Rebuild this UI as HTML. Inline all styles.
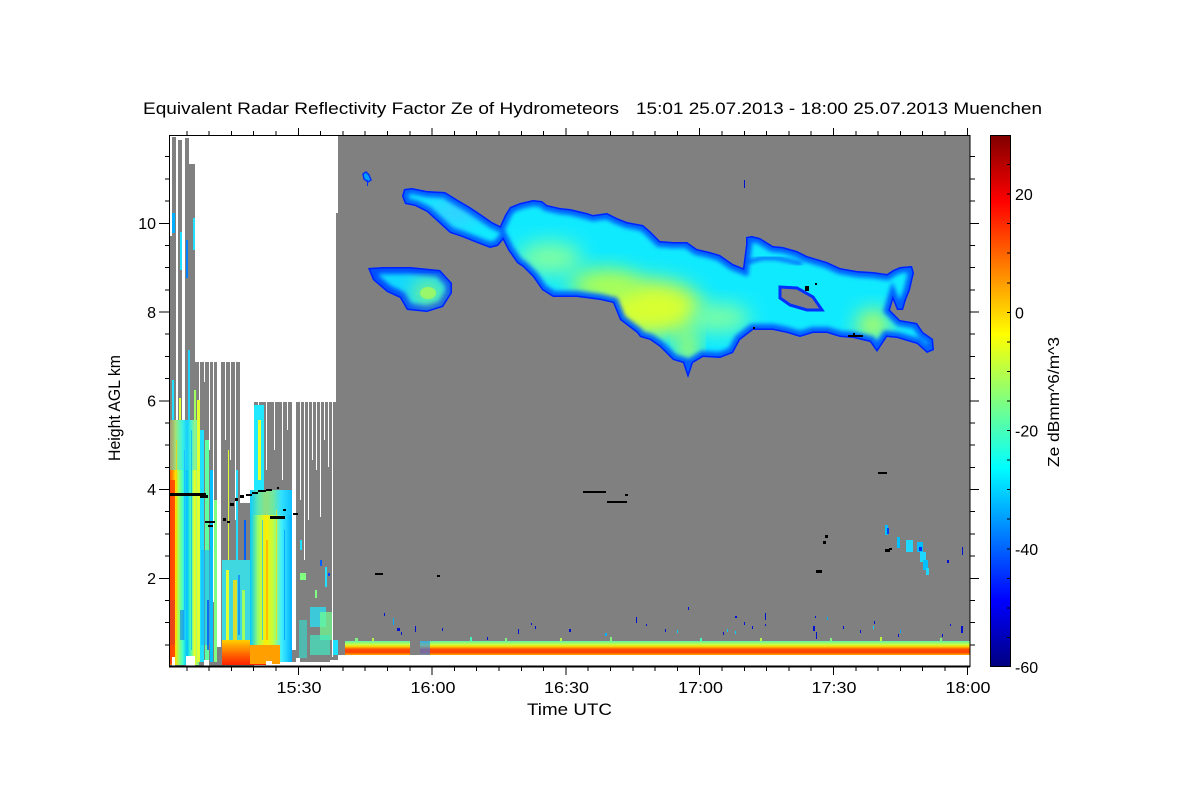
<!DOCTYPE html>
<html><head><meta charset="utf-8">
<style>html,body{margin:0;padding:0;background:#fff}svg{display:block}</style>
</head>
<body>
<svg width="1200" height="800" viewBox="0 0 1200 800" xmlns="http://www.w3.org/2000/svg" font-family="'Liberation Sans', Arial, sans-serif">
<defs>
 <linearGradient id="cb" x1="0" y1="1" x2="0" y2="0">
  <stop offset="0" stop-color="#000080"/>
  <stop offset="0.125" stop-color="#0000ff"/>
  <stop offset="0.375" stop-color="#00ffff"/>
  <stop offset="0.625" stop-color="#ffff00"/>
  <stop offset="0.875" stop-color="#ff0000"/>
  <stop offset="1" stop-color="#800000"/>
 </linearGradient>
 <linearGradient id="band" x1="0" y1="0" x2="0" y2="1">
  <stop offset="0" stop-color="#60f0b0"/>
  <stop offset="0.25" stop-color="#c8ff40"/>
  <stop offset="0.4" stop-color="#ffd000"/>
  <stop offset="0.58" stop-color="#ff5000"/>
  <stop offset="0.8" stop-color="#ff4000"/>
  <stop offset="1" stop-color="#ffa800"/>
 </linearGradient>
 <linearGradient id="gA" x1="0" y1="0" x2="1" y2="0">
  <stop offset="0" stop-color="#ff5000"/>
  <stop offset="0.12" stop-color="#ff9000"/>
  <stop offset="0.22" stop-color="#ffe000"/>
  <stop offset="0.32" stop-color="#a0ff60"/>
  <stop offset="0.46" stop-color="#40ffd0"/>
  <stop offset="0.6" stop-color="#00c0ff"/>
  <stop offset="0.72" stop-color="#40ffc0"/>
  <stop offset="0.86" stop-color="#f0ff20"/>
  <stop offset="1" stop-color="#60ffa0"/>
 </linearGradient>
 <linearGradient id="gD" x1="0" y1="0" x2="1" y2="0">
  <stop offset="0" stop-color="#00c8ff"/>
  <stop offset="0.2" stop-color="#a0ff60"/>
  <stop offset="0.38" stop-color="#ffee00"/>
  <stop offset="0.55" stop-color="#c0ff40"/>
  <stop offset="0.75" stop-color="#40f0ff"/>
  <stop offset="1" stop-color="#00b0ff"/>
 </linearGradient>
 <linearGradient id="gRed" x1="0" y1="0" x2="0" y2="1">
  <stop offset="0" stop-color="#ffd000"/>
  <stop offset="0.6" stop-color="#ff6000"/>
  <stop offset="1" stop-color="#ff2000"/>
 </linearGradient>
 <filter id="bl" x="-50%" y="-50%" width="200%" height="200%"><feGaussianBlur stdDeviation="10"/></filter>
 <filter id="bl2" x="-20%" y="-20%" width="140%" height="140%"><feGaussianBlur stdDeviation="2"/></filter>
 <clipPath id="cm"><path id="mainp" d="M402,196 L404,189 L412,188 L427,191 L445,192 L458,200 L470,207 L482,215 L492,222 L500,226 L505,215 L510,207 L520,203 L533,200 L542,201 L547,205 L560,208 L570,209 L587,213 L593,215 L607,213 L617,218 L627,222 L643,225 L650,231 L660,241 L673,242 L687,242 L697,249 L710,252 L720,255 L733,264 L743,268 L746,245 L746,237 L752,236 L760,238 L773,246 L783,247 L797,251 L807,256 L827,262 L840,268 L857,271 L873,272 L887,274 L893,270 L900,267 L912,266 L914,273 L910,290 L906,300 L903,310 L897,310 L893,300 L890,310 L900,320 L917,323 L923,332 L933,339 L934,350 L927,353 L917,344 L897,338 L887,337 L877,352 L870,342 L853,338 L840,337 L827,333 L813,333 L800,337 L787,333 L773,330 L753,330 L740,340 L733,353 L720,358 L703,357 L693,363 L688,378 L683,363 L673,360 L660,347 L650,340 L640,337 L637,333 L620,320 L613,303 L600,300 L577,297 L553,297 L542,290 L533,277 L523,267 L517,263 L508,250 L503,240 L498,246 L490,248 L477,243 L462,237 L450,233 L438,222 L427,212 L415,206 L405,204 Z"/></clipPath>
 <clipPath id="cs"><path id="smallp" d="M368,268 L383,267 L410,267 L440,270 L452,283 L452,293 L443,307 L427,312 L407,310 L400,298 L387,292 L373,280 Z"/></clipPath>
</defs>

<rect width="1200" height="800" fill="#fff"/>

<g shape-rendering="crispEdges">
<rect x="338" y="135" width="632" height="520" fill="#808080"/>
<rect x="336" y="213" width="3" height="447" fill="#808080"/>

<!-- left grays -->
<rect x="169" y="236" width="3" height="431" fill="#808080"/>
<rect x="172" y="137" width="4" height="530" fill="#808080"/>
<rect x="178" y="140" width="4" height="527" fill="#808080"/>
<rect x="185" y="138" width="4" height="529" fill="#808080"/>
<rect x="189" y="164" width="6" height="503" fill="#808080"/>
<rect x="176" y="423" width="2" height="244" fill="#808080"/>
<rect x="182" y="420" width="3" height="247" fill="#808080"/>
<rect x="195" y="362" width="45" height="305" fill="#808080"/>
<rect x="240" y="503" width="14" height="164" fill="#808080"/>
<rect x="254" y="402" width="83" height="260" fill="#808080"/>

<g fill="#fff">
<rect x="217" y="362" width="4" height="285"/>
<rect x="199" y="362" width="1" height="58"/>
<rect x="204" y="362" width="1" height="20"/>
<rect x="209" y="362" width="1" height="88"/>
<rect x="213" y="362" width="1" height="240"/>
<rect x="225" y="362" width="1" height="78"/>
<rect x="230" y="362" width="1" height="98"/>
<rect x="235" y="362" width="1" height="158"/>
<rect x="258" y="402" width="1" height="28"/>
<rect x="266" y="402" width="1" height="68"/>
<rect x="274" y="402" width="1" height="48"/>
<rect x="282" y="402" width="1" height="78"/>
<rect x="287" y="402" width="1" height="28"/>
<rect x="292" y="402" width="4" height="248"/>
<rect x="300" y="402" width="1" height="98"/>
<rect x="304" y="402" width="1" height="158"/>
<rect x="308" y="402" width="1" height="118"/>
<rect x="312" y="402" width="1" height="58"/>
<rect x="316" y="402" width="1" height="68"/>
<rect x="320" y="402" width="1" height="115"/>
<rect x="324" y="402" width="1" height="38"/>
<rect x="328" y="402" width="1" height="65"/>
<rect x="332" y="402" width="1" height="255"/>
</g>

<!-- left colored data -->
<rect x="169" y="420" width="30" height="245" fill="url(#gA)"/>
<rect x="169" y="420" width="30" height="50" fill="#30e0ff" opacity="0.45"/>
<rect x="169" y="600" width="6" height="45" fill="#0050ff" opacity="0.6"/>
<rect x="180" y="610" width="4" height="30" fill="#0060ff" opacity="0.5"/>
<rect x="176" y="440" width="1" height="200" fill="#ffd000" opacity="0.7"/>
<rect x="184" y="450" width="1" height="190" fill="#20c0ff"/>
<rect x="191" y="430" width="1" height="220" fill="#00b0ff" opacity="0.7"/>
<rect x="172" y="380" width="2" height="40" fill="#20e0ff"/>
<rect x="179" y="398" width="2" height="22" fill="#e0ff30"/>
<rect x="188" y="350" width="2" height="70" fill="#20d0ff"/>
<rect x="194" y="390" width="2" height="30" fill="#a0ff60"/>
<rect x="172" y="213" width="3" height="20" fill="#00b0ff"/>
<rect x="180" y="232" width="2" height="38" fill="#20e0ff"/>
<rect x="186" y="240" width="2" height="38" fill="#0080ff"/>
<rect x="193" y="218" width="2" height="32" fill="#20e0ff"/>
<rect x="170" y="480" width="5" height="184" fill="#ff4000" opacity="0.85"/>

<!-- column B -->
<rect x="197" y="400" width="3" height="262" fill="#e0ff30"/>
<rect x="200" y="430" width="4" height="232" fill="#20e0ff"/>
<rect x="205" y="440" width="4" height="222" fill="#60ffa0"/>
<rect x="210" y="470" width="3" height="192" fill="#00c0ff"/>
<rect x="214" y="500" width="3" height="162" fill="#80ff80"/>
<rect x="201" y="550" width="12" height="95" fill="#10b8ff" opacity="0.6"/>
<rect x="207" y="600" width="2" height="50" fill="#0040ff" opacity="0.7"/>

<!-- column C -->
<rect x="228" y="450" width="1" height="110" fill="#e0ff30"/>
<rect x="236" y="470" width="2" height="90" fill="#20e0ff"/>
<rect x="244" y="520" width="2" height="40" fill="#0060ff"/>
<rect x="222" y="560" width="30" height="85" fill="#40d8e0"/>
<rect x="226" y="570" width="3" height="75" fill="#e0ff30"/>
<rect x="233" y="580" width="4" height="65" fill="#ffe000" opacity="0.8"/>
<rect x="242" y="590" width="3" height="55" fill="#a0ff60"/>
<rect x="238" y="575" width="2" height="60" fill="#0070ff" opacity="0.6"/>
<rect x="222" y="640" width="44" height="25" fill="url(#gRed)"/>

<!-- column D -->
<rect x="254" y="405" width="10" height="85" fill="#20e8ff"/>
<rect x="258" y="420" width="3" height="60" fill="#e8ff30"/>
<rect x="250" y="490" width="42" height="172" fill="url(#gD)"/>
<rect x="250" y="490" width="42" height="25" fill="#20d0ff" opacity="0.5"/>
<rect x="262" y="520" width="1" height="120" fill="#20c0ff" opacity="0.7"/>
<rect x="276" y="510" width="1" height="130" fill="#ffe000" opacity="0.7"/>
<rect x="284" y="530" width="1" height="110" fill="#0090ff" opacity="0.7"/>
<rect x="250" y="645" width="30" height="19" fill="#ffa000"/>
<rect x="266" y="540" width="2" height="100" fill="#ffb000" opacity="0.8"/>

<!-- column E specks -->
<rect x="300" y="573" width="6" height="7" fill="#80ff80"/>
<rect x="310" y="607" width="16" height="20" fill="#20e8ff" opacity="0.7"/>
<rect x="320" y="612" width="12" height="28" fill="#70ff90" opacity="0.7"/>
<rect x="325" y="567" width="2" height="20" fill="#20e0ff"/>
<rect x="328" y="573" width="2" height="3" fill="#0040ff"/>
<rect x="299" y="620" width="8" height="38" fill="#30e0d0" opacity="0.6"/>
<rect x="310" y="635" width="20" height="20" fill="#40e8c0" opacity="0.7"/>
<rect x="300" y="540" width="2" height="10" fill="#20e0ff"/>
<rect x="315" y="590" width="2" height="8" fill="#80ff80"/>
<rect x="333" y="640" width="5" height="15" fill="#20e0ff"/>
<rect x="320" y="560" width="2" height="6" fill="#0060ff"/>

<!-- bottom white patches -->
<g fill="#fff">
<rect x="172" y="657" width="3" height="9"/>
<rect x="186" y="656" width="9" height="10"/>
<rect x="204" y="660" width="5" height="6"/>
<rect x="266" y="661" width="6" height="5"/>
<rect x="296" y="658" width="4" height="8"/>
<rect x="330" y="660" width="8" height="6"/>
</g>

<rect x="338" y="655" width="632" height="12" fill="#fff"/>
<rect x="345" y="641" width="65" height="14" fill="url(#band)"/>
<rect x="420" y="641" width="550" height="14" fill="url(#band)"/>
<rect x="420" y="641" width="10" height="14" fill="#2080ff" opacity="0.6"/>

<g fill="#0010d0">
<rect x="384" y="613" width="1" height="3"/>
<rect x="393" y="618" width="1" height="7" fill="#00b0ff"/>
<rect x="397" y="628" width="3" height="3"/>
<rect x="401" y="632" width="1" height="3"/>
<rect x="415" y="626" width="1" height="6"/>
<rect x="442" y="628" width="1" height="3"/>
<rect x="487" y="637" width="1" height="3"/>
<rect x="518" y="629" width="1" height="5"/>
<rect x="531" y="623" width="1" height="2"/>
<rect x="535" y="626" width="1" height="3"/>
<rect x="569" y="629" width="2" height="3"/>
<rect x="605" y="633" width="2" height="3" fill="#00b0ff"/>
<rect x="636" y="617" width="1" height="6"/>
<rect x="646" y="624" width="1" height="2"/>
<rect x="688" y="607" width="1" height="3"/>
<rect x="665" y="629" width="1" height="3"/>
<rect x="677" y="630" width="1" height="3" fill="#00d0ff"/>
<rect x="723" y="632" width="1" height="3"/>
<rect x="727" y="629" width="1" height="3" fill="#00d0ff"/>
<rect x="735" y="631" width="1" height="3" fill="#00d0ff"/>
<rect x="735" y="616" width="2" height="2"/>
<rect x="744" y="622" width="1" height="3"/>
<rect x="752" y="626" width="1" height="3"/>
<rect x="765" y="613" width="1" height="7"/>
<rect x="765" y="624" width="1" height="2"/>
<rect x="815" y="616" width="1" height="2"/>
<rect x="813" y="626" width="2" height="5"/>
<rect x="816" y="632" width="1" height="7"/>
<rect x="843" y="626" width="1" height="3"/>
<rect x="874" y="621" width="1" height="3"/>
<rect x="873" y="626" width="1" height="3" fill="#00d0ff"/>
<rect x="898" y="634" width="1" height="3"/>
<rect x="942" y="634" width="1" height="3"/>
<rect x="950" y="624" width="1" height="2"/>
<rect x="961" y="626" width="2" height="7"/>
<rect x="962" y="547" width="1" height="8"/>
<rect x="947" y="560" width="2" height="3"/>
<rect x="744" y="180" width="1" height="8"/>
<rect x="827" y="617" width="1" height="3" fill="#00b0ff"/>
<rect x="860" y="630" width="1" height="3"/>
<rect x="900" y="630" width="1" height="3" fill="#00b0ff"/>
</g>
<g opacity="0.9">
<rect x="355" y="638" width="3" height="3" fill="#80ff80"/>
<rect x="372" y="638" width="2" height="3" fill="#c0ff40"/>
<rect x="470" y="637" width="2" height="4" fill="#40ffc0"/>
<rect x="505" y="638" width="2" height="3" fill="#80ff80"/>
<rect x="560" y="638" width="2" height="3" fill="#c0ff40"/>
<rect x="610" y="637" width="2" height="4" fill="#80ff80"/>
<rect x="700" y="638" width="2" height="3" fill="#40ffc0"/>
<rect x="760" y="638" width="2" height="3" fill="#c0ff40"/>
<rect x="830" y="638" width="2" height="3" fill="#80ff80"/>
<rect x="880" y="637" width="2" height="4" fill="#c0ff40"/>
<rect x="940" y="638" width="2" height="3" fill="#80ff80"/>
</g>
</g>

<g fill="#00c0ff" shape-rendering="crispEdges">
<rect x="885" y="525" width="3" height="10"/>
<rect x="887" y="528" width="2" height="6" fill="#0040ff"/>
<rect x="897" y="537" width="3" height="11"/>
<rect x="906" y="540" width="7" height="12" fill="#20d8ff"/>
<rect x="917" y="542" width="6" height="10"/>
<rect x="920" y="552" width="6" height="10" fill="#20d8ff"/>
<rect x="923" y="560" width="5" height="10"/>
<rect x="926" y="568" width="3" height="7" fill="#20d8ff"/>
<rect x="919" y="547" width="3" height="4" fill="#0030ff"/>
</g>

<path d="M363,174 L366,172 L369,175 L371,180 L368,182 L364,179 Z" fill="#00a0ff" stroke="#0030ff" stroke-width="1.5"/>
<rect x="367" y="180" width="1" height="6" fill="#0030ff"/>

<use href="#smallp" fill="#10d8ff"/>
<g clip-path="url(#cs)">
 <use href="#smallp" fill="none" stroke="#0050ff" stroke-width="14" filter="url(#bl2)"/>
 <ellipse cx="428" cy="293" rx="14" ry="10" fill="#b0ff50" filter="url(#bl)"/>
 <ellipse cx="428" cy="293" rx="8" ry="6" fill="#c0ff40" opacity="0.6"/>
 <use href="#smallp" fill="none" stroke="#0020ff" stroke-width="3"/>
</g>

<use href="#mainp" fill="#10eaff"/>
<g clip-path="url(#cm)">
 <ellipse cx="550" cy="258" rx="32" ry="16" fill="#80ffa0" filter="url(#bl)"/>
 <ellipse cx="650" cy="308" rx="52" ry="28" fill="#d8ff30" filter="url(#bl)"/>
 <ellipse cx="605" cy="285" rx="35" ry="16" fill="#b0ff50" filter="url(#bl)"/>
 <ellipse cx="688" cy="348" rx="9" ry="22" fill="#c8ff40" filter="url(#bl)"/>
 <ellipse cx="720" cy="318" rx="30" ry="14" fill="#80ffa0" filter="url(#bl)"/>
 <ellipse cx="873" cy="325" rx="16" ry="15" fill="#c0ff50" filter="url(#bl)"/>
 <ellipse cx="455" cy="212" rx="25" ry="10" fill="#40c8ff" filter="url(#bl)"/>
 <use href="#mainp" fill="none" stroke="#0060ff" stroke-width="12" filter="url(#bl2)"/>
 <use href="#mainp" fill="none" stroke="#0020ff" stroke-width="3"/>
 <polyline points="748,262 762,258 776,258 790,261 802,264" fill="none" stroke="#0040ff" stroke-width="3" filter="url(#bl2)"/>
</g>
<path d="M780,287 L797,288 L813,297 L822,310 L807,310 L790,305 L780,298 Z" fill="#808080" stroke="#0030ff" stroke-width="3"/>

<g fill="#000" shape-rendering="crispEdges">
<rect x="170" y="493" width="36" height="3"/>
<rect x="200" y="495" width="8" height="3"/>
<rect x="205" y="521" width="10" height="2"/>
<rect x="208" y="525" width="5" height="2"/>
<rect x="223" y="518" width="3" height="3"/>
<rect x="227" y="521" width="3" height="2"/>
<rect x="230" y="503" width="4" height="3"/>
<rect x="235" y="498" width="3" height="3"/>
<rect x="240" y="495" width="4" height="3"/>
<rect x="246" y="494" width="6" height="2"/>
<rect x="252" y="492" width="6" height="2"/>
<rect x="258" y="490" width="8" height="2"/>
<rect x="266" y="489" width="6" height="2"/>
<rect x="277" y="487" width="2" height="2"/>
<rect x="270" y="516" width="15" height="3"/>
<rect x="283" y="509" width="3" height="2"/>
<rect x="293" y="513" width="5" height="2"/>
<rect x="583" y="491" width="23" height="2"/>
<rect x="607" y="501" width="20" height="2"/>
<rect x="625" y="494" width="3" height="2"/>
<rect x="375" y="573" width="8" height="2"/>
<rect x="437" y="575" width="3" height="2"/>
<rect x="878" y="472" width="9" height="2"/>
<rect x="825" y="535" width="3" height="3"/>
<rect x="823" y="541" width="3" height="3"/>
<rect x="816" y="570" width="6" height="3"/>
<rect x="885" y="549" width="5" height="3"/>
<rect x="889" y="548" width="3" height="2"/>
<rect x="848" y="335" width="15" height="2"/>
<rect x="853" y="333" width="2" height="2"/>
<rect x="805" y="286" width="4" height="5"/>
<rect x="815" y="283" width="2" height="2"/>
<rect x="753" y="327" width="2" height="2"/>
</g>

<g stroke="#000" fill="none" shape-rendering="crispEdges">
<rect x="169.5" y="135.5" width="800.5" height="531" stroke-width="1.3"/>
<line x1="169" y1="666.5" x2="970" y2="666.5" stroke-width="2"/>
<path d="M298.3,667v8M432.1,667v8M565.9,667v8M699.7,667v8M833.5,667v8M967.3,667v8
M298.3,135v-7M432.1,135v-7M565.9,135v-7M699.7,135v-7M833.5,135v-7M967.3,135v-7"/>
<path d="M186.8,667v4M209.1,667v4M231.4,667v4M253.7,667v4M276,667v4M320.6,667v4M342.9,667v4M365.2,667v4M387.5,667v4M409.8,667v4M454.4,667v4M476.7,667v4M499,667v4M521.3,667v4M543.6,667v4M588.2,667v4M610.5,667v4M632.8,667v4M655.1,667v4M677.4,667v4M722,667v4M744.3,667v4M766.6,667v4M788.9,667v4M811.2,667v4M855.8,667v4M878.1,667v4M900.4,667v4M922.7,667v4M945,667v4
M186.8,135v-4M209.1,135v-4M231.4,135v-4M253.7,135v-4M276,135v-4M320.6,135v-4M342.9,135v-4M365.2,135v-4M387.5,135v-4M409.8,135v-4M454.4,135v-4M476.7,135v-4M499,135v-4M521.3,135v-4M543.6,135v-4M588.2,135v-4M610.5,135v-4M632.8,135v-4M655.1,135v-4M677.4,135v-4M722,135v-4M744.3,135v-4M766.6,135v-4M788.9,135v-4M811.2,135v-4M855.8,135v-4M878.1,135v-4M900.4,135v-4M922.7,135v-4M945,135v-4"/>
<path d="M169,578.25h-10M169,489.5h-10M169,400.75h-10M169,312h-10M169,223.25h-10
M970,578.25h9M970,489.5h9M970,400.75h9M970,312h9M970,223.25h9"/>
<path d="M169,644.8h-4M169,622.6h-4M169,600.4h-4M169,556.1h-4M169,533.9h-4M169,511.7h-4M169,467.3h-4M169,445.1h-4M169,422.9h-4M169,378.6h-4M169,356.4h-4M169,334.2h-4M169,289.8h-4M169,267.6h-4M169,245.4h-4M169,201.1h-4M169,178.9h-4M169,156.7h-4
M970,644.8h5M970,622.6h5M970,600.4h5M970,556.1h5M970,533.9h5M970,511.7h5M970,467.3h5M970,445.1h5M970,422.9h5M970,378.6h5M970,356.4h5M970,334.2h5M970,289.8h5M970,267.6h5M970,245.4h5M970,201.1h5M970,178.9h5M970,156.7h5"/>
</g>

<rect x="990" y="135" width="20" height="532" fill="url(#cb)"/>
<rect x="990.5" y="135.5" width="20" height="531" fill="none" stroke="#000" stroke-width="1.3" shape-rendering="crispEdges"/>
<path d="M1010,637.4h-3M1010,607.9h-3M1010,578.3h-3M1010,548.8h-3M1010,519.2h-3M1010,489.7h-3M1010,460.1h-3M1010,430.6h-3M1010,401h-3M1010,371.4h-3M1010,341.9h-3M1010,312.3h-3M1010,282.8h-3M1010,253.2h-3M1010,223.7h-3M1010,194.1h-3M1010,164.6h-3" stroke="#000" shape-rendering="crispEdges"/>
<g font-size="16" fill="#000">
<text x="1015" y="200">20</text>
<text x="1015" y="318.5">0</text>
<text x="1015" y="436.5">-20</text>
<text x="1015" y="555">-40</text>
<text x="1015" y="673">-60</text>
</g>
<text transform="translate(1059,402) rotate(-90)" text-anchor="middle" font-size="16" textLength="130" lengthAdjust="spacingAndGlyphs">Ze dBmm^6/m^3</text>

<g font-size="16" fill="#000" text-anchor="end">
<text x="156" y="584">2</text>
<text x="156" y="495">4</text>
<text x="156" y="406.5">6</text>
<text x="156" y="318">8</text>
<text x="156" y="229">10</text>
</g>
<g font-size="16" fill="#000" text-anchor="middle">
<text x="299" y="693" textLength="45" lengthAdjust="spacingAndGlyphs">15:30</text>
<text x="433" y="693" textLength="45" lengthAdjust="spacingAndGlyphs">16:00</text>
<text x="566.5" y="693" textLength="45" lengthAdjust="spacingAndGlyphs">16:30</text>
<text x="700.5" y="693" textLength="45" lengthAdjust="spacingAndGlyphs">17:00</text>
<text x="834" y="693" textLength="45" lengthAdjust="spacingAndGlyphs">17:30</text>
<text x="968" y="693" textLength="45" lengthAdjust="spacingAndGlyphs">18:00</text>
</g>

<text x="569.5" y="715" text-anchor="middle" font-size="17" textLength="85" lengthAdjust="spacingAndGlyphs">Time UTC</text>
<text transform="translate(120,408) rotate(-90)" text-anchor="middle" font-size="16.5" textLength="106" lengthAdjust="spacingAndGlyphs">Height AGL km</text>

<text x="143" y="114" font-size="17" textLength="476" lengthAdjust="spacingAndGlyphs">Equivalent Radar Reflectivity Factor Ze of Hydrometeors</text>
<text x="636" y="114" font-size="17" textLength="406" lengthAdjust="spacingAndGlyphs">15:01 25.07.2013 - 18:00 25.07.2013 Muenchen</text>
</svg>
</body></html>
